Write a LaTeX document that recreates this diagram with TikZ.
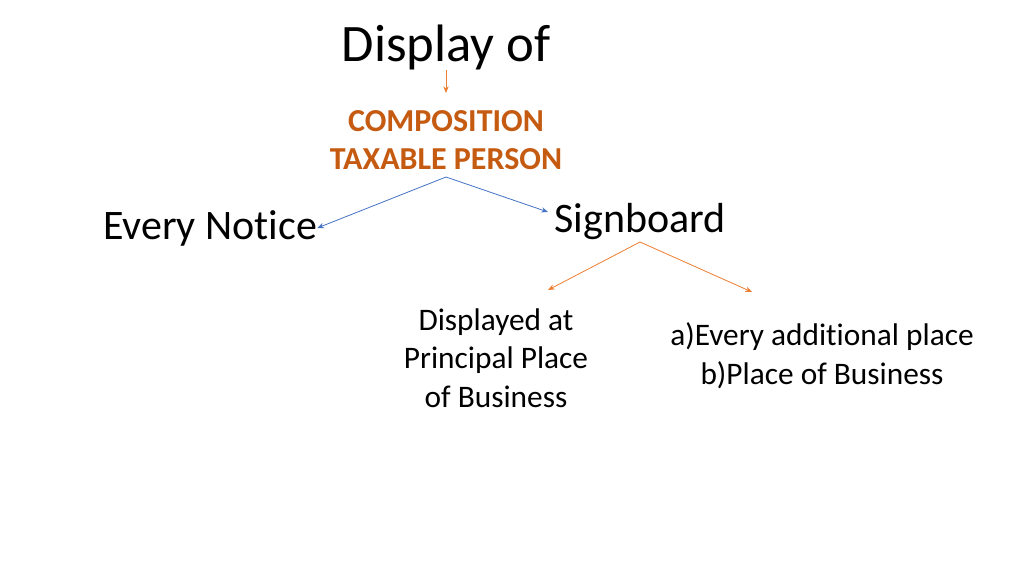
\documentclass[tikz,border=0pt]{standalone}
\usepackage{fontspec}
\setmainfont{Carlito}[RawFeature=-liga]
\usetikzlibrary{arrows.meta}
\definecolor{org}{HTML}{C55A11}
\definecolor{orl}{HTML}{ED7D31}
\definecolor{blu}{HTML}{4472C4}
\begin{document}
\begin{tikzpicture}[x=0.75pt,y=-0.75pt,
 arr/.style={-{Stealth[length=5pt,width=4pt]},line width=0.6pt},
 t/.style={inner sep=0pt,anchor=center,align=center}]
\useasboundingbox (0,0) rectangle (1024,576);
\node[t,font=\fontsize{39.5}{46}\selectfont] (disp) at (446,47) {Display of};
\node[t,font=\fontsize{24}{29}\selectfont\bfseries,text=org] (comp) at (446,140) {COMPOSITION\\TAXABLE PERSON};
\node[t,font=\fontsize{31.5}{36}\selectfont] (every) at (210,228) {Every Notice};
\node[t,font=\fontsize{31.5}{36}\selectfont] (sign) at (640,222) {Signboard};
\node[t,font=\fontsize{23.5}{29}\selectfont] (disp2) at (496,358) {Displayed at\\Principal Place\\of Business};
\node[t,font=\fontsize{23.5}{29}\selectfont] (addl) at (822,356) {a)Every additional place\\b)Place of Business};
\coordinate (c1) at (446,70); \coordinate (c1e) at (446,93);
\draw[arr,orl] (c1) -- (c1e);
\coordinate (b0) at (446,177);
\draw[arr,blu] (b0) -- (every.east |- 0,228);
\draw[arr,blu] (b0) -- (548,212);
\coordinate (o0) at (640,242);
\draw[arr,orl] (o0) -- (548,290);
\draw[arr,orl] (o0) -- (752,292);
\end{tikzpicture}
\end{document}
